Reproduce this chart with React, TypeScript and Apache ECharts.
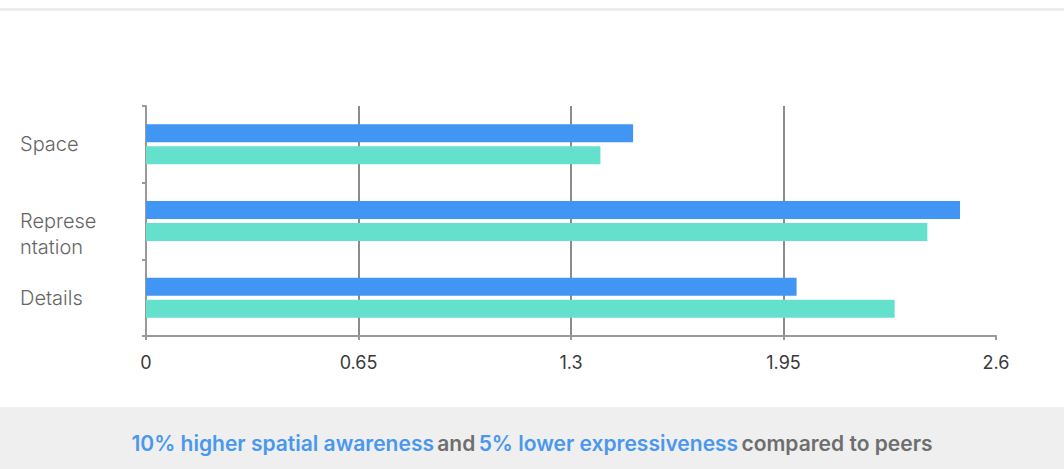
import React, { useEffect, useRef } from "react";
import * as echarts from "echarts";

const categories = ["Space", "Representation", "Details"];
const categoryLabels = ["Space", "\nReprese\nntation", "Details"];
const blueValues = [1.49, 2.49, 1.99];
const greenValues = [1.39, 2.39, 2.29];
const xTicks = [0, 0.65, 1.3, 1.95, 2.6];

export default function App() {
  const ref = useRef<HTMLDivElement>(null);
  useEffect(() => {
    document.body.style.margin = "0";
    const chart = echarts.init(ref.current!, null, { renderer: "svg" });
    chart.setOption({
      animation: false,
      backgroundColor: "#ffffff",
      grid: { left: 146, right: 68, top: 106, bottom: 133, containLabel: false },
      xAxis: {
        type: "value",
        min: 0,
        max: 2.6,
        interval: 0.65,
        axisLine: { show: true, lineStyle: { color: "#999999", width: 2 } },
        axisTick: { show: true, length: 4, lineStyle: { color: "#999999", width: 2 } },
        splitLine: { show: true, showMinLine: false, showMaxLine: false, lineStyle: { color: "#8c8c8c", width: 2 } },
        axisLabel: {
          color: "#3a3a3a",
          fontSize: 18,
          margin: 17,
          fontFamily: "Inter",
          formatter: (v: number) => (xTicks.includes(v) ? String(v) : ""),
        },
      },
      yAxis: {
        type: "category",
        inverse: true,
        data: categories,
        axisLine: { show: true, lineStyle: { color: "#999999", width: 2 } },
        axisTick: { show: true, length: 4, lineStyle: { color: "#999999", width: 2 } },
        axisLabel: {
          color: "#666666",
          fontSize: 20,
          fontFamily: "Inter",
          fontWeight: 300,
          align: "left",
          margin: 126,
          lineHeight: 26,
          formatter: (_v: string, i: number) => categoryLabels[i],
        },
      },
      series: [
        {
          type: "bar",
          data: blueValues,
          barWidth: 18,
          barGap: "22%",
          itemStyle: { color: "#4296f3" },
        },
        {
          type: "bar",
          data: greenValues,
          barWidth: 18,
          itemStyle: { color: "#64e0cc" },
        },
      ],
      graphic: [
        { type: "rect", shape: { x: 0, y: 8, width: 1064, height: 3 }, style: { fill: "#ededed" } },
        { type: "rect", shape: { x: 0, y: 407, width: 1064, height: 62 }, style: { fill: "#efefef" } },
        {
          type: "text",
          x: 532,
          y: 443,
          style: {
            text: "{b|10% higher spatial awareness} {g|and} {b|5% lower expressiveness} {g|compared to peers}",
            align: "center",
            verticalAlign: "middle",
            rich: {
              b: { fill: "#4a98ee", fontSize: 21, fontWeight: 600, fontFamily: "Inter" },
              g: { fill: "#6e6e6e", fontSize: 21, fontWeight: 600, fontFamily: "Inter" },
            },
          },
        },
      ],
    });
    return () => chart.dispose();
  }, []);
  return <div ref={ref} style={{ width: 1064, height: 469 }} />;
}
